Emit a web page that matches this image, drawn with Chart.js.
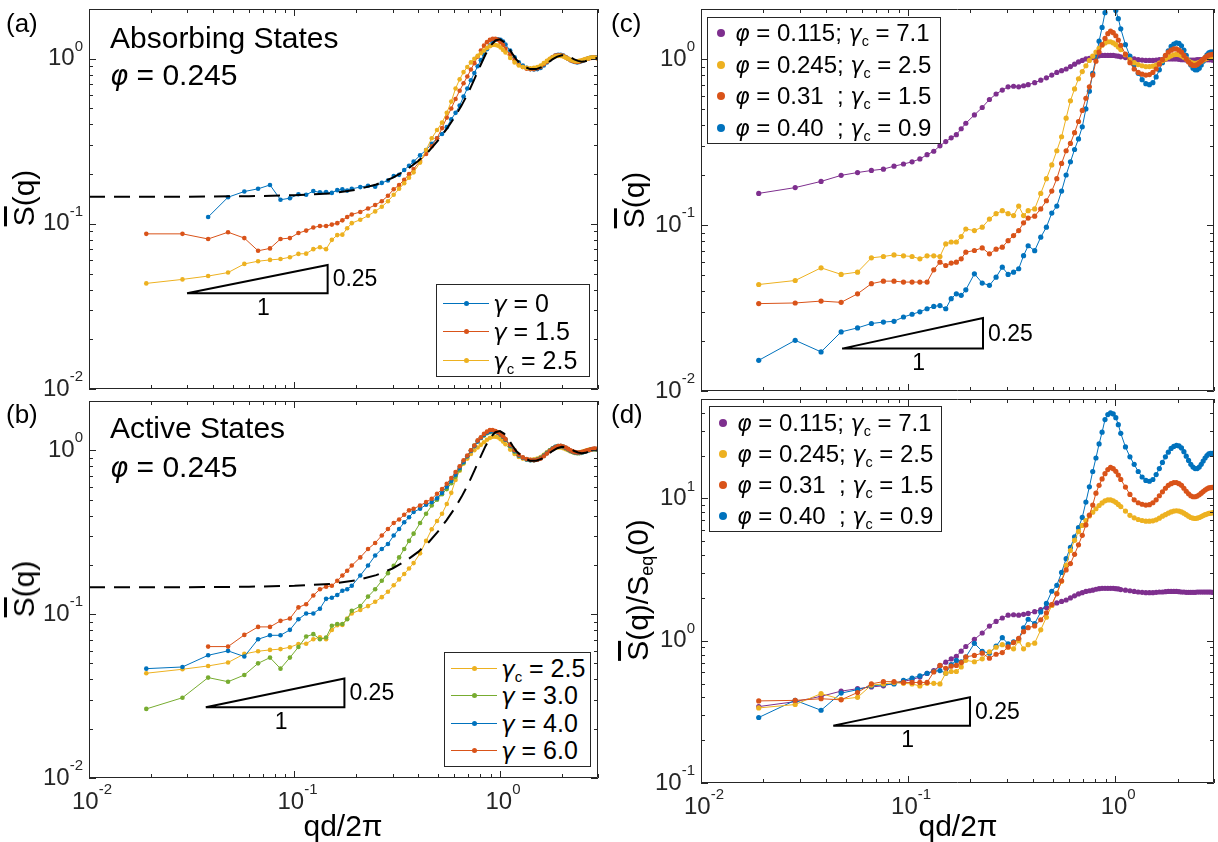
<!DOCTYPE html>
<html>
<head>
<meta charset="utf-8">
<script src="https://cdn.jsdelivr.net/npm/chart.js@4.4.1/dist/chart.umd.min.js"></script>
<style>
  body { margin: 0; width: 1218px; height: 842px; background: #fff; position: relative; overflow: hidden;
         font-family: "Liberation Sans", Arial, sans-serif; color: #000; }
  canvas { position: absolute; left: 0; top: 0; }
  .txt { position: absolute; white-space: pre; line-height: 1; }
  .legend { position: absolute; background: #fff; border: 1px solid #262626; box-sizing: border-box; }
  .ltxt { position: absolute; white-space: pre; line-height: 1; }
  .ltxt sub { font-size: 60%; vertical-align: -0.35em; line-height: 0; }
  .ytitle { position: absolute; white-space: pre; line-height: 1; font-size: 30px; transform: translate(-50%, -50%) rotate(-90deg); }
  .ytitle sub { font-size: 60%; vertical-align: -0.3em; line-height: 0; }
  .ov { text-decoration: overline; }
  .gr { font-family: "DejaVu Sans", sans-serif; font-style: italic; font-size: 92%; }
</style>
</head>
<body>
<canvas id="chartA" width="1218" height="842"></canvas>
<canvas id="chartB" width="1218" height="842"></canvas>
<canvas id="chartC" width="1218" height="842"></canvas>
<canvas id="chartD" width="1218" height="842"></canvas>

<div class="txt" style="left:6px;top:10px;font-size:26px">(a)</div>
<div class="txt" style="left:110px;top:23px;font-size:30px">Absorbing States</div>
<div class="txt" style="left:110px;top:60px;font-size:30px"><span class="gr">φ</span> = 0.245</div>
<div class="txt" style="left:6px;top:401px;font-size:26px">(b)</div>
<div class="txt" style="left:110px;top:413px;font-size:30px">Active States</div>
<div class="txt" style="left:110px;top:452px;font-size:30px"><span class="gr">φ</span> = 0.245</div>
<div class="txt" style="left:611px;top:10px;font-size:26px">(c)</div>
<div class="txt" style="left:611px;top:401px;font-size:26px">(d)</div>

<div class="ytitle" style="left:24px;top:198px"><span class="ov">S</span>(q)</div>
<div class="ytitle" style="left:24px;top:589px"><span class="ov">S</span>(q)</div>
<div class="ytitle" style="left:634px;top:200px"><span class="ov">S</span>(q)</div>
<div class="ytitle" style="left:638px;top:590px"><span class="ov">S</span>(q)/S<sub>eq</sub>(0)</div>
<div class="txt" style="left:343px;top:826px;font-size:30px;transform:translate(-50%,-50%)">qd/2π</div>
<div class="txt" style="left:958px;top:826px;font-size:30px;transform:translate(-50%,-50%)">qd/2π</div>

<script>
// q values (qd/2π) of the measured structure factors
const qGrid = [0.019, 0.0285, 0.038, 0.0475, 0.057, 0.0665, 0.076, 0.0855, 0.095, 0.1045, 0.114, 0.1235, 0.133, 0.1425, 0.152, 0.1615, 0.171, 0.1805, 0.19,
  0.209, 0.228, 0.247, 0.266, 0.285, 0.304, 0.323, 0.342, 0.361, 0.38,
  0.4085, 0.437, 0.4655, 0.494, 0.5225, 0.551, 0.5795, 0.608, 0.6365, 0.665, 0.6935, 0.722, 0.7505, 0.779, 0.8075, 0.836, 0.8645, 0.893, 0.9215, 0.95, 0.9785, 1.007, 1.0355, 1.064,
  1.121, 1.178, 1.235, 1.292, 1.349, 1.406, 1.463, 1.52, 1.577, 1.634, 1.691, 1.748, 1.805, 1.862, 1.919, 1.976, 2.033, 2.09, 2.147, 2.204, 2.261, 2.318, 2.375, 2.432, 2.489, 2.546, 2.603, 2.66, 2.717, 2.774, 2.831, 2.888, 2.945, 2.99];

// (a) absorbing states, phi = 0.245
const sAbsGamma0 = [null, null, 0.110, 0.145, 0.157, 0.163, 0.172, 0.140, 0.143, 0.151, 0.150, 0.158, 0.155, 0.156, 0.154, 0.160, 0.162, 0.159, 0.163,
  0.167, 0.170, 0.168, 0.177, 0.183, 0.195, 0.198, 0.212, 0.225, 0.238,
  0.26, 0.28, 0.305, 0.33, 0.35, 0.385, 0.43, 0.47, 0.52, 0.59, 0.66, 0.74, 0.82, 0.90, 0.98, 1.06, 1.14, 1.20, 1.26, 1.30, 1.31, 1.30, 1.27, 1.22,
  1.12, 1.02, 0.95, 0.91, 0.88, 0.865, 0.86, 0.865, 0.88, 0.91, 0.95, 0.99, 1.02, 1.045, 1.055, 1.055, 1.045, 1.025, 1.0, 0.98, 0.965, 0.955, 0.95, 0.955, 0.965, 0.975, 0.99, 1.0, 1.01, 1.015, 1.02, 1.02, 1.015, 1.01];
const sAbsGamma15 = [0.087, 0.087, 0.081, 0.089, 0.082, 0.0687, 0.071, 0.081, 0.082, 0.088, 0.091, 0.095, 0.097, 0.097, 0.099, 0.101, 0.105, 0.110, 0.114,
  0.118, 0.124, 0.130, 0.137, 0.148, 0.162, 0.172, 0.185, 0.20, 0.215,
  0.24, 0.265, 0.295, 0.33, 0.38, 0.44, 0.50, 0.57, 0.64, 0.71, 0.78, 0.86, 0.94, 1.03, 1.12, 1.20, 1.26, 1.30, 1.32, 1.32, 1.30, 1.26, 1.21, 1.15,
  1.06, 0.98, 0.92, 0.89, 0.87, 0.865, 0.865, 0.875, 0.895, 0.925, 0.96, 0.995, 1.025, 1.045, 1.05, 1.05, 1.04, 1.02, 1.0, 0.98, 0.97, 0.96, 0.955, 0.96, 0.97, 0.98, 0.99, 1.0, 1.005, 1.01, 1.015, 1.015, 1.01, 1.005];
// gamma_c = 2.5, shown in (a) and (b)
const sGammaC25 = [0.0436, 0.0461, 0.0483, 0.0507, 0.0572, 0.0594, 0.0605, 0.0612, 0.0628, 0.0658, 0.066, 0.0703, 0.0722, 0.0703, 0.080, 0.0855, 0.086, 0.094, 0.101,
  0.106, 0.112, 0.119, 0.127, 0.137, 0.150, 0.163, 0.176, 0.190, 0.205,
  0.235, 0.28, 0.33, 0.37, 0.41, 0.47, 0.55, 0.66, 0.75, 0.83, 0.89, 0.95, 1.0, 1.04, 1.08, 1.12, 1.16, 1.19, 1.21, 1.21, 1.2, 1.17, 1.13, 1.09,
  1.01, 0.95, 0.91, 0.89, 0.88, 0.875, 0.88, 0.89, 0.91, 0.94, 0.97, 1.0, 1.02, 1.035, 1.04, 1.04, 1.03, 1.015, 1.0, 0.985, 0.975, 0.965, 0.965, 0.97, 0.975, 0.985, 0.995, 1.0, 1.01, 1.015, 1.015, 1.015, 1.01, 1.01];

// (b) active states
const sActGamma3 = [0.0264, 0.0309, 0.041, 0.0387, 0.0425, 0.0501, 0.0543, 0.0465, 0.0543, 0.063, 0.073, 0.0755, 0.0703, 0.072, 0.085, 0.087, 0.087, 0.093, 0.105,
  0.112, 0.128, 0.142, 0.16, 0.178, 0.197, 0.222, 0.25, 0.28, 0.31,
  0.36, 0.41, 0.46, 0.50, 0.54, 0.58, 0.63, 0.69, 0.76, 0.84, 0.92, 1.0, 1.07, 1.14, 1.19, 1.23, 1.27, 1.29, 1.3, 1.3, 1.28, 1.25, 1.21, 1.16,
  1.06, 0.98, 0.93, 0.9, 0.88, 0.87, 0.87, 0.88, 0.9, 0.93, 0.97, 1.0, 1.03, 1.05, 1.06, 1.06, 1.05, 1.03, 1.01, 0.99, 0.975, 0.965, 0.96, 0.96, 0.965, 0.975, 0.985, 0.995, 1.0, 1.01, 1.015, 1.015, 1.015, 1.01];
const sActGamma4 = [0.0465, 0.0476, 0.0561, 0.0597, 0.0551, 0.0703, 0.0743, 0.0743, 0.0802, 0.093, 0.101, 0.101, 0.108, 0.124, 0.126, 0.131, 0.139, 0.142, 0.149,
  0.172, 0.198, 0.228, 0.25, 0.268, 0.302, 0.331, 0.364, 0.39, 0.42,
  0.44, 0.465, 0.483, 0.51, 0.55, 0.6, 0.65, 0.71, 0.78, 0.85, 0.92, 0.99, 1.06, 1.13, 1.19, 1.24, 1.28, 1.3, 1.31, 1.3, 1.28, 1.25, 1.21, 1.16,
  1.07, 0.99, 0.93, 0.9, 0.88, 0.87, 0.87, 0.875, 0.895, 0.925, 0.96, 0.995, 1.025, 1.05, 1.06, 1.06, 1.05, 1.035, 1.015, 0.995, 0.98, 0.97, 0.965, 0.965, 0.97, 0.975, 0.985, 0.995, 1.0, 1.01, 1.015, 1.02, 1.015, 1.01];
const sActGamma6 = [null, null, 0.0634, 0.0634, 0.0747, 0.0836, 0.0836, 0.091, 0.094, 0.11, 0.115, 0.13, 0.142, 0.147, 0.149, 0.16, 0.172, 0.184, 0.198,
  0.222, 0.25, 0.272, 0.302, 0.331, 0.36, 0.378, 0.404, 0.43, 0.44,
  0.46, 0.483, 0.506, 0.543, 0.58, 0.625, 0.677, 0.737, 0.8, 0.87, 0.93, 1.0, 1.07, 1.15, 1.2, 1.26, 1.3, 1.33, 1.33, 1.31, 1.29, 1.26, 1.22, 1.17,
  1.08, 1.0, 0.94, 0.905, 0.885, 0.875, 0.87, 0.875, 0.89, 0.92, 0.955, 0.99, 1.02, 1.045, 1.06, 1.065, 1.055, 1.04, 1.02, 1.0, 0.985, 0.975, 0.97, 0.97, 0.975, 0.98, 0.99, 1.0, 1.005, 1.01, 1.02, 1.025, 1.02, 1.015];

// dashed equilibrium curve, phi = 0.245
const eqQ = [0.01, 0.03, 0.06, 0.1, 0.15, 0.2, 0.25, 0.3, 0.35, 0.4, 0.45, 0.5, 0.55, 0.6, 0.65, 0.7, 0.75, 0.8, 0.85, 0.9, 0.95, 1.0, 1.05, 1.1, 1.15, 1.2, 1.3, 1.4, 1.5, 1.6, 1.7, 1.8, 1.9, 2.0, 2.1, 2.2, 2.3, 2.4, 2.5, 2.6, 2.7, 2.8, 2.9, 3.0];
const eqS = [0.146, 0.146, 0.147, 0.149, 0.153, 0.161, 0.173, 0.19, 0.212, 0.24, 0.275, 0.32, 0.375, 0.44, 0.52, 0.62, 0.75, 0.9, 1.06, 1.2, 1.29, 1.31, 1.26, 1.17, 1.07, 0.99, 0.9, 0.865, 0.865, 0.89, 0.94, 0.99, 1.03, 1.05, 1.045, 1.02, 0.99, 0.97, 0.96, 0.965, 0.98, 0.995, 1.005, 1.01];

// (c) critical states for four packing fractions
const sPhi0115 = [0.155, 0.168, 0.183, 0.199, 0.207, 0.213, 0.217, 0.226, 0.233, 0.24, 0.25, 0.265, 0.278, 0.3, 0.318, 0.335, 0.35, 0.38, 0.41,
  0.46, 0.51, 0.57, 0.615, 0.65, 0.68, 0.685, 0.68, 0.69, 0.70,
  0.72, 0.745, 0.77, 0.80, 0.83, 0.85, 0.87, 0.90, 0.93, 0.96, 0.98, 1.0, 1.01, 1.02, 1.035, 1.045, 1.05, 1.05, 1.05, 1.05, 1.05, 1.045, 1.04, 1.03,
  1.02, 1.01, 1.0, 0.99, 0.985, 0.98, 0.98, 0.98, 0.985, 0.99, 0.99, 0.995, 1.0, 1.0, 1.0, 1.0, 0.995, 0.99, 0.99, 0.985, 0.985, 0.985, 0.985, 0.985, 0.99, 0.99, 0.99, 0.99, 0.99, 0.99, 0.99, 0.99, 0.985, 0.985];
const sPhi0245 = [0.0438, 0.0463, 0.0552, 0.0504, 0.052, 0.0634, 0.0646, 0.066, 0.0652, 0.0646, 0.0625, 0.0652, 0.0652, 0.0646, 0.0769, 0.079, 0.079, 0.0851, 0.0946,
  0.0925, 0.097, 0.1086, 0.117, 0.122, 0.117, 0.114, 0.13, 0.114, 0.122,
  0.125, 0.155, 0.19, 0.23, 0.28, 0.34, 0.44, 0.56, 0.66, 0.76, 0.84, 0.91, 0.98, 1.04, 1.1, 1.16, 1.21, 1.25, 1.27, 1.27, 1.25, 1.22, 1.18, 1.14,
  1.06, 0.99, 0.95, 0.925, 0.91, 0.9, 0.9, 0.905, 0.92, 0.945, 0.975, 1.0, 1.025, 1.045, 1.06, 1.065, 1.06, 1.045, 1.025, 1.0, 0.975, 0.955, 0.945, 0.94, 0.945, 0.955, 0.97, 0.985, 1.0, 1.01, 1.02, 1.025, 1.03, 1.035];
const sPhi031 = [0.0336, 0.0339, 0.0348, 0.0342, 0.0385, 0.0443, 0.0459, 0.0459, 0.0453, 0.0453, 0.0453, 0.0453, 0.0537, 0.0597, 0.057, 0.059, 0.0597, 0.0625, 0.0686,
  0.0702, 0.0728, 0.067, 0.0715, 0.0735, 0.0805, 0.0864, 0.0925, 0.103, 0.11,
  0.113, 0.125, 0.14, 0.16, 0.19, 0.235, 0.28, 0.31, 0.36, 0.42, 0.49, 0.58, 0.68, 0.8, 0.97, 1.1, 1.22, 1.33, 1.42, 1.47, 1.44, 1.38, 1.3, 1.21,
  1.07, 0.95, 0.87, 0.83, 0.81, 0.8, 0.805, 0.83, 0.87, 0.93, 0.99, 1.05, 1.1, 1.13, 1.15, 1.15, 1.13, 1.1, 1.05, 1.0, 0.96, 0.93, 0.915, 0.915, 0.925, 0.945, 0.97, 0.995, 1.02, 1.04, 1.055, 1.06, 1.065, 1.065];
const sPhi040 = [0.0153, 0.0202, 0.0172, 0.0227, 0.024, 0.0255, 0.026, 0.0263, 0.0279, 0.029, 0.030, 0.0313, 0.0323, 0.0327, 0.0313, 0.036, 0.0385, 0.0377, 0.0407,
  0.0508, 0.0447, 0.0433, 0.0485, 0.0557, 0.0504, 0.052, 0.0545, 0.0653, 0.075,
  0.07, 0.0844, 0.097, 0.118, 0.13, 0.16, 0.2, 0.24, 0.285, 0.33, 0.39, 0.5, 0.64, 0.82, 1.02, 1.28, 1.55, 1.9, 2.06, 2.12, 2.08, 1.96, 1.75, 1.52,
  1.22, 1.04, 0.92, 0.82, 0.75, 0.71, 0.70, 0.72, 0.78, 0.86, 0.95, 1.04, 1.12, 1.19, 1.23, 1.25, 1.24, 1.2, 1.13, 1.05, 0.98, 0.92, 0.88, 0.86, 0.86, 0.88, 0.92, 0.97, 1.02, 1.06, 1.09, 1.1, 1.1, 1.1];
// S_eq(0) for phi = 0.115, 0.245, 0.31, 0.40 (divides (c) to give (d))
const sEqZero = [0.45, 0.13, 0.089, 0.053];

// slope-1/4 triangles: [q start, q end, S at base, S at top]
const slopeA = [0.03, 0.145, 0.038, 0.0564];
const slopeB = [0.037, 0.175, 0.027, 0.0405];
const slopeC = [0.048, 0.23, 0.018, 0.0275];
const slopeD = [0.0435, 0.199, 0.253, 0.40];

const blue = '#0072BD', red = '#D95319', yellow = '#EDB120', purple = '#7E2F8E', green = '#77AC30';
const W = 1218, H = 842;
const fontName = '"Liberation Sans", Arial, sans-serif';

const toPoints = (ys) => qGrid.map((q, i) => ({ x: q, y: ys[i] })).filter(p => p.y != null);

function curve(ys, color, r) {
  return { data: toPoints(ys), showLine: true, borderColor: color, backgroundColor: color,
           borderWidth: 1, pointRadius: r, pointBorderWidth: 0, pointBackgroundColor: color };
}
function dashed() {
  return { data: eqQ.map((q, i) => ({ x: q, y: eqS[i] })), showLine: true, borderColor: '#000',
           borderWidth: 2, borderDash: [16, 9], pointRadius: 0 };
}
function triangle(t) {
  return { data: [{ x: t[0], y: t[2] }, { x: t[1], y: t[2] }, { x: t[1], y: t[3] }, { x: t[0], y: t[2] }],
           showLine: true, borderColor: '#000', borderWidth: 2, pointRadius: 0, clip: false };
}

function drawPow(ctx, e, x, y, align) {
  const base = '10', sup = String(e);
  ctx.font = '24px ' + fontName;
  const wb = ctx.measureText(base).width;
  ctx.font = '15px ' + fontName;
  const ws = ctx.measureText(sup).width;
  const x0 = align === 'right' ? x - wb - ws : x - (wb + ws) / 2;
  ctx.textAlign = 'left';
  ctx.textBaseline = 'middle';
  ctx.font = '24px ' + fontName;
  ctx.fillText(base, x0, y);
  ctx.font = '15px ' + fontName;
  ctx.fillText(sup, x0 + wb, y - 12);
}

// MATLAB-like box, inward ticks, 10^n labels and the slope labels
const matlabAxes = {
  id: 'matlabAxes',
  afterDatasetsDraw(chart, args, o) {
    const { ctx, chartArea: a } = chart;
    const xs = chart.scales.x, ys = chart.scales.y;
    const logTicks = (s) => {
      const out = [];
      for (let e = Math.floor(Math.log10(s.min)); e <= Math.ceil(Math.log10(s.max)); e++) {
        for (let m = 1; m < 10; m++) {
          const v = m * Math.pow(10, e);
          if (v >= s.min * 0.999 && v <= s.max * 1.001) out.push({ v, e, major: m === 1 });
        }
      }
      return out;
    };
    ctx.save();
    ctx.strokeStyle = '#262626';
    ctx.lineWidth = 1;
    ctx.beginPath();
    ctx.rect(a.left + 0.5, a.top + 0.5, a.right - a.left - 1, a.bottom - a.top - 1);
    for (const t of logTicks(xs)) {
      const px = Math.round(xs.getPixelForValue(t.v)) + 0.5;
      const len = t.major ? 7 : 4;
      ctx.moveTo(px, a.bottom); ctx.lineTo(px, a.bottom - len);
      ctx.moveTo(px, a.top); ctx.lineTo(px, a.top + len);
    }
    for (const t of logTicks(ys)) {
      const py = Math.round(ys.getPixelForValue(t.v)) + 0.5;
      const len = t.major ? 7 : 4;
      ctx.moveTo(a.left, py); ctx.lineTo(a.left + len, py);
      ctx.moveTo(a.right, py); ctx.lineTo(a.right - len, py);
    }
    ctx.stroke();
    ctx.fillStyle = '#262626';
    for (const t of logTicks(ys)) {
      if (t.major) drawPow(ctx, t.e, a.left - 6, ys.getPixelForValue(t.v), 'right');
    }
    if (o.xLabels) {
      for (const t of logTicks(xs)) {
        if (t.major) drawPow(ctx, t.e, xs.getPixelForValue(t.v) + 3, a.bottom + 24, 'center');
      }
    }
    if (o.slope) {
      const t = o.slope;
      const x1 = xs.getPixelForValue(t[0]), x2 = xs.getPixelForValue(t[1]);
      const yb = ys.getPixelForValue(t[2]), yt = ys.getPixelForValue(t[3]);
      ctx.fillStyle = '#000';
      ctx.font = '23px ' + fontName;
      ctx.textBaseline = 'middle';
      ctx.textAlign = 'left';
      ctx.fillText('0.25', x2 + 5, (yb + yt) / 2 + 1);
      ctx.textAlign = 'center';
      ctx.fillText('1', (x1 + x2) / 2 + 6, yb + 15);
    }
    ctx.restore();
  }
};

function makeChart(id, area, yRange, datasets, slope, xLabels) {
  return new Chart(document.getElementById(id), {
    type: 'scatter',
    data: { datasets: datasets.slice().reverse() },
    options: {
      responsive: false,
      animation: false,
      events: [],
      layout: { padding: { left: area[0], top: area[1], right: W - area[2], bottom: H - area[3] } },
      scales: {
        x: { type: 'logarithmic', min: 0.01, max: 3, display: false },
        y: { type: 'logarithmic', min: yRange[0], max: yRange[1], display: false }
      },
      plugins: {
        legend: { display: false },
        tooltip: { enabled: false },
        matlabAxes: { slope, xLabels }
      }
    },
    plugins: [matlabAxes]
  });
}

const divide = (ys, s) => ys.map(v => v == null ? null : v / s);

// datasets listed in plotting order (last one ends on top)
makeChart('chartA', [89, 9, 598, 389], [0.01, 2], [
  curve(sAbsGamma0, blue, 2.3), curve(sAbsGamma15, red, 2.3), curve(sGammaC25, yellow, 2.3),
  dashed(), triangle(slopeA)
], slopeA, false);

makeChart('chartB', [89, 401, 598, 778], [0.01, 2], [
  curve(sGammaC25, yellow, 2.3), curve(sActGamma3, green, 2.3), curve(sActGamma4, blue, 2.3), curve(sActGamma6, red, 2.3),
  dashed(), triangle(slopeB)
], slopeB, true);

makeChart('chartC', [701, 9, 1215, 391], [0.01, 2], [
  curve(sPhi0115, purple, 2.6), curve(sPhi040, blue, 2.6), curve(sPhi0245, yellow, 2.6), curve(sPhi031, red, 2.6),
  triangle(slopeC)
], slopeC, false);

makeChart('chartD', [701, 399, 1215, 783], [0.1, 50], [
  curve(divide(sPhi0115, sEqZero[0]), purple, 2.6), curve(divide(sPhi040, sEqZero[3]), blue, 2.6),
  curve(divide(sPhi0245, sEqZero[1]), yellow, 2.6), curve(divide(sPhi031, sEqZero[2]), red, 2.6),
  triangle(slopeD)
], slopeD, true);

// legends
function legend(left, top, width, height, firstY, step, labels, colors, withLine, fontSize, textLeft) {
  const box = document.createElement('div');
  box.className = 'legend';
  Object.assign(box.style, { left: left + 'px', top: top + 'px', width: width + 'px', height: height + 'px' });
  labels.forEach((lab, i) => {
    const cy = firstY + i * step;
    if (withLine) {
      const ln = document.createElement('div');
      Object.assign(ln.style, { position: 'absolute', left: '6px', width: '46px', top: (cy - 0.5) + 'px', height: '1px', background: colors[i] });
      box.appendChild(ln);
    }
    const r = withLine ? 2.5 : 4;
    const dot = document.createElement('div');
    const cx = withLine ? 29 : 13;
    Object.assign(dot.style, { position: 'absolute', left: (cx - r) + 'px', top: (cy - r) + 'px', width: 2 * r + 'px', height: 2 * r + 'px',
      borderRadius: '50%', background: colors[i] });
    box.appendChild(dot);
    const t = document.createElement('div');
    t.className = 'ltxt';
    t.innerHTML = lab;
    Object.assign(t.style, { left: textLeft + 'px', top: (cy - fontSize * 0.5) + 'px', fontSize: fontSize + 'px' });
    box.appendChild(t);
  });
  document.body.appendChild(box);
}

const g = '<span class="gr">γ</span>', p = '<span class="gr">φ</span>';
legend(436, 284, 154, 93, 18, 28.5, [g + ' = 0', g + ' = 1.5', g + '<sub>c</sub> = 2.5'], [blue, red, yellow], true, 25, 56);
legend(444, 652, 147, 115, 15, 27.5, [g + '<sub>c</sub> = 2.5', g + ' = 3.0', g + ' = 4.0', g + ' = 6.0'], [yellow, green, blue, red], true, 25, 56);
const phiLabels = [p + ' = 0.115; ' + g + '<sub>c</sub> = 7.1', p + ' = 0.245; ' + g + '<sub>c</sub> = 2.5',
                   p + ' = 0.31  ; ' + g + '<sub>c</sub> = 1.5', p + ' = 0.40  ; ' + g + '<sub>c</sub> = 0.9'];
const phiColors = [purple, yellow, red, blue];
legend(707, 17, 234, 127, 15, 31.5, phiLabels, phiColors, false, 24, 27);
legend(709, 406, 233, 126, 16, 31, phiLabels, phiColors, false, 24, 27);
</script>
</body>
</html>
